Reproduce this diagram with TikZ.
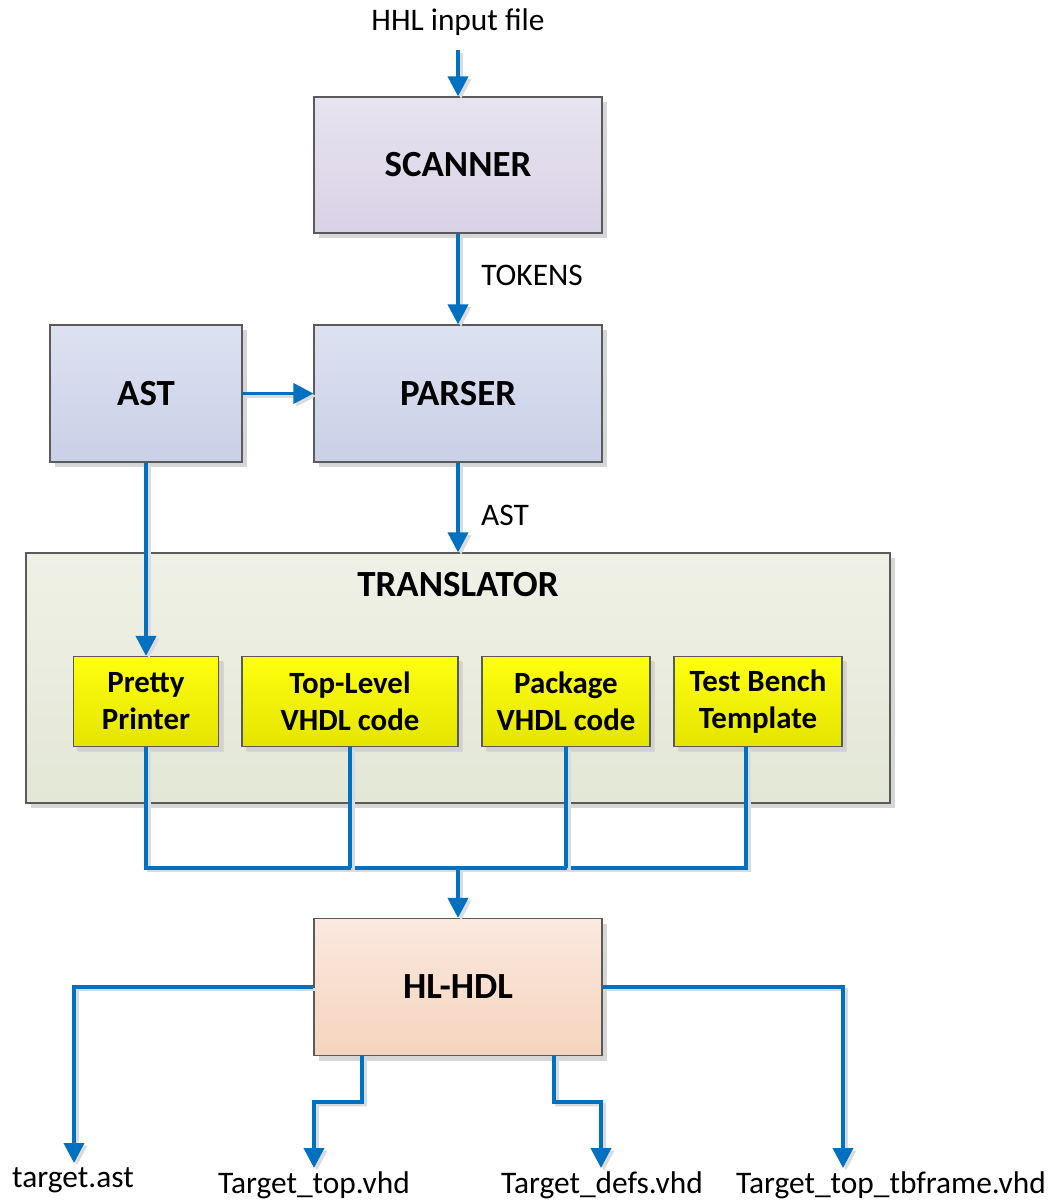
\documentclass[tikz,border=0pt]{standalone}
\usepackage{fontspec}
\setmainfont{Carlito}
\usetikzlibrary{arrows.meta,shadows}

\definecolor{wire}{HTML}{0070C0}
\definecolor{edge}{HTML}{5A5A5A}
\definecolor{scanTop}{HTML}{E7E3F0}
\definecolor{scanBot}{HTML}{D9D2E6}
\definecolor{parseTop}{HTML}{DDE2F1}
\definecolor{parseBot}{HTML}{C9D0E7}
\definecolor{transTop}{HTML}{EFF1E6}
\definecolor{transBot}{HTML}{E3E7D6}
\definecolor{yelTop}{HTML}{FFFF10}
\definecolor{yelBot}{HTML}{E4E400}
\definecolor{hdlTop}{HTML}{FBE9DE}
\definecolor{hdlBot}{HTML}{F5D4BE}

\tikzset{
  box/.style={draw=edge, line width=1.2bp, rectangle, inner sep=2bp,
    align=center, font=\bfseries\fontsize{37}{42}\selectfont,
    drop shadow={shadow xshift=5bp, shadow yshift=-5bp, fill=black!16, opacity=1}},
  scanbox/.style={box, top color=scanTop, bottom color=scanBot},
  parsebox/.style={box, top color=parseTop, bottom color=parseBot},
  transbox/.style={box, top color=transTop, bottom color=transBot},
  genbox/.style={box, top color=yelTop, bottom color=yelBot,
    font=\bfseries\fontsize{31}{37}\selectfont,
    drop shadow={shadow xshift=4bp, shadow yshift=-4bp, fill=black!18, opacity=1}},
  outbox/.style={box, top color=hdlTop, bottom color=hdlBot},
  lbl/.style={font=\fontsize{31.5}{36}\selectfont, inner sep=0pt},
  wirestyle/.style={draw=wire, line width=3.8bp,
    preaction={draw=black!14, line width=3.8bp,
      transform canvas={shift={(3bp,-2.5bp)}}}},
  flow/.style={wirestyle, -{Triangle[length=20bp,width=20bp]}},
}

\begin{document}
\begin{tikzpicture}[x=1bp, y=-1bp]
\useasboundingbox (0,0) rectangle (1056,1203);

% input file
\node[lbl] (in) at (458,22) {HHL input file};
\coordinate (inEnd) at (458,50);

% front end
\node[scanbox, minimum width=288bp, minimum height=136bp] (scan) at (458,165) {SCANNER};
\node[parsebox, minimum width=288bp, minimum height=137bp] (parse) at (458,393.5) {PARSER};
\node[parsebox, minimum width=192bp, minimum height=137bp] (ast) at (146,393.5) {AST};

% translator and its generators
\node[transbox, minimum width=864bp, minimum height=250bp] (trans) at (458,678) {};
\node[font=\bfseries\fontsize{37}{42}\selectfont, inner sep=0pt] (transT) at (458,585) {TRANSLATOR};
\node[genbox, minimum width=145bp, minimum height=90bp] (pretty) at (146,701.5) {Pretty\\Printer};
\node[genbox, minimum width=216bp, minimum height=90bp] (toplvl) at (350,701.5) {Top-Level\\VHDL code};
\node[genbox, minimum width=168bp, minimum height=90bp] (pkg) at (566,701.5) {Package\\VHDL code};
\node[genbox, minimum width=168bp, minimum height=90bp] (tb) at (758,701.5) {Test Bench\\Template};

% back end
\node[outbox, minimum width=288bp, minimum height=137bp] (hdl) at (458,987) {HL-HDL};
\coordinate (bus) at (458,868);
\coordinate (tbOut) at (746,746.5);

% output files
\node[lbl] (oAst) at (73,1180) {target.ast};
\node[lbl] (oTop) at (314,1185) {Target\_top.vhd};
\node[lbl] (oDefs) at (602,1185) {Target\_defs.vhd};
\node[lbl] (oTb) at (891,1185) {Target\_top\_tbframe.vhd};
\coordinate (eAst) at (74,1163);
\coordinate (eTop) at (314,1168);
\coordinate (eDefs) at (601,1168);
\coordinate (eTb) at (843,1168);
\coordinate (kTop) at (362,1102);
\coordinate (kDefs) at (554,1102);

% labels on connectors
\node[lbl] (lTok) at (532,275) {TOKENS};
\node[lbl] (lAst) at (505,515) {AST};

% connectors
\draw[flow] (inEnd) -- (scan.north);
\draw[flow] (scan.south) -- (parse.north);
\draw[flow] (ast.east) -- (parse.west);
\draw[flow] (parse.south) -- (trans.north);
\draw[flow] (ast.south) -- (pretty.north);

\draw[wirestyle] (pretty.south) |- (bus);
\draw[wirestyle] (tbOut) |- (bus);
\draw[wirestyle] (toplvl.south) -- (toplvl.south |- bus);
\draw[wirestyle] (pkg.south) -- (pkg.south |- bus);
\draw[flow] (bus) -- (hdl.north);

\draw[flow] (hdl.west) -| (eAst);
\draw[flow] (hdl.east) -| (eTb);
\draw[flow] ([xshift=-96bp]hdl.south) -- (kTop) -| (eTop);
\draw[flow] ([xshift=96bp]hdl.south) -- (kDefs) -| (eDefs);
\end{tikzpicture}
\end{document}
